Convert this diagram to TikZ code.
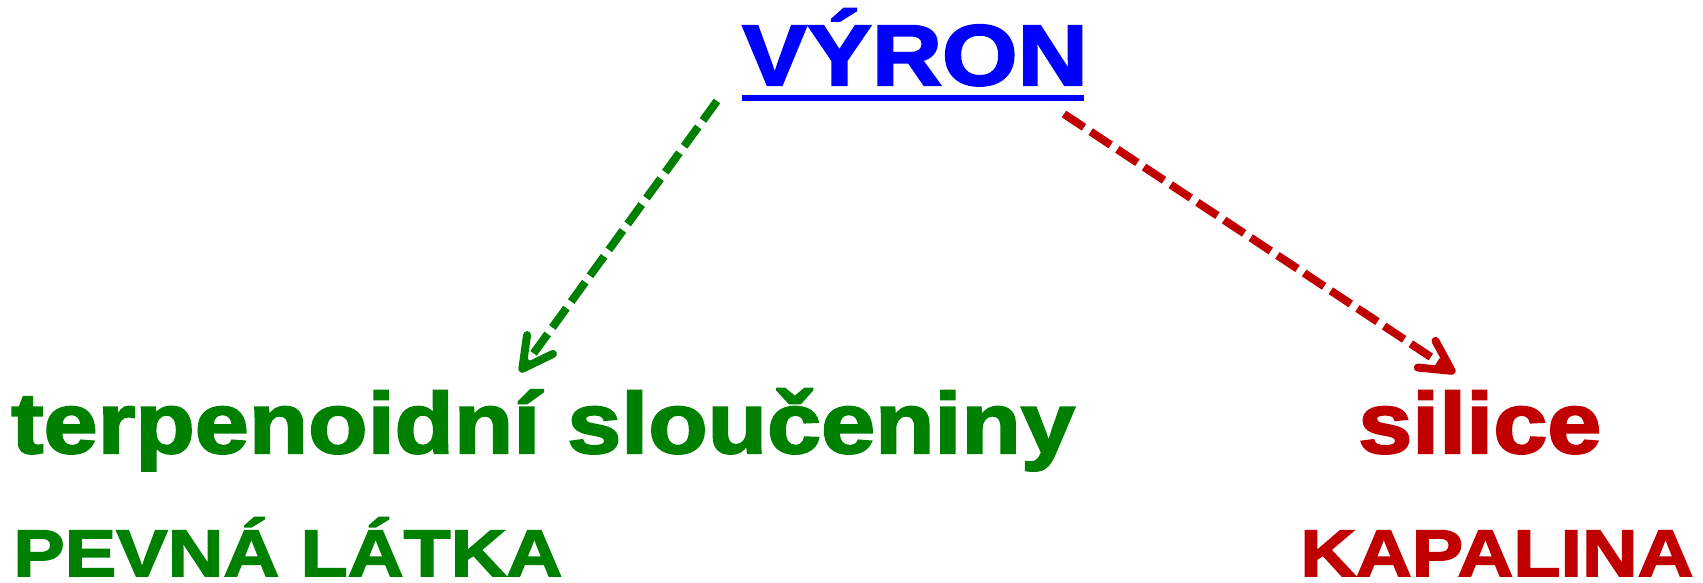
\documentclass[tikz,border=0pt]{standalone}
\usepackage{fontspec}
\setmainfont{Liberation Sans}
\newfontfamily\bigf{Liberation Sans}[FakeStretch=1.13, BoldFeatures={FakeBold=2.5}]
\newfontfamily\smallf{Liberation Sans}[FakeStretch=1.17, BoldFeatures={FakeBold=2.5}]
\usetikzlibrary{arrows.meta}
\definecolor{myblue}{RGB}{0,0,255}
\definecolor{mygreen}{RGB}{0,128,0}
\definecolor{myred}{RGB}{192,0,0}
\tikzset{
  big/.style={inner sep=0pt, font=\bigf\bfseries\fontsize{86}{90}\selectfont},
  small/.style={inner sep=0pt, font=\smallf\bfseries\fontsize{66}{70}\selectfont},
  conn/.style={line width=8pt, dash pattern=on 24pt off 8pt,
    -{Straight Barb[length=30pt,width=32pt,line width=8pt,round]}}
}
\begin{document}
\begin{tikzpicture}[x=1pt,y=-1pt]
\useasboundingbox (0,0) rectangle (1703,582);
\node[big, text=myblue, anchor=base west] (vyron) at (742,85) {VÝRON};
\draw[myblue, line width=6pt] (742,98) -- (1084,98);
\node[big, text=mygreen, anchor=base west] (terp) at (11,453) {terpenoidní sloučeniny};
\node[big, text=myred, anchor=base west] (silice) at (1358,453) {silice};
\node[small, text=mygreen, anchor=base west] (pevna) at (13,576) {PEVNÁ LÁTKA};
\node[small, text=myred, anchor=base west] (kapalina) at (1300,576) {KAPALINA};
\coordinate (gs) at (717,101);
\coordinate (ge) at (520,372);
\coordinate (rs) at (1064,114);
\coordinate (re) at (1455,373);
\draw[conn, mygreen] (gs) -- (ge);
\draw[conn, myred] (rs) -- (re);
\end{tikzpicture}
\end{document}
